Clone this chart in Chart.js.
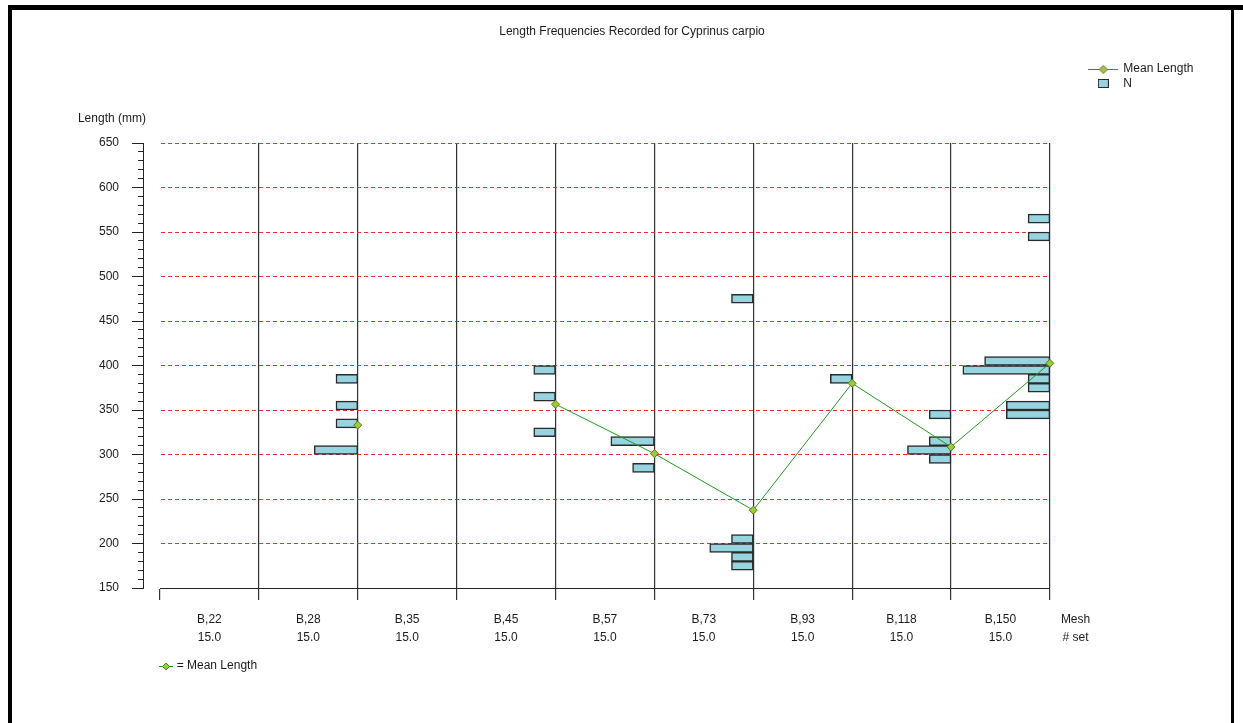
<!DOCTYPE html>
<html>
<head>
<meta charset="utf-8">
<script src="https://cdn.jsdelivr.net/npm/chart.js@4.4.1/dist/chart.umd.min.js"></script>
<style>
  html, body { margin: 0; padding: 0; background: #fff; overflow: hidden; width: 1243px; height: 723px; }
  #wrap { position: absolute; left: 20px; top: 0; width: 1224px; height: 723px; }
  .frame { position: absolute; background: #000; z-index: 2; }
</style>
</head>
<body>
<div class="frame" style="left:8px;top:5px;width:1235px;height:5px"></div>
<div class="frame" style="left:8px;top:5px;width:4px;height:718px"></div>
<div class="frame" style="left:1231px;top:5px;width:3px;height:718px"></div>
<div id="wrap"><canvas id="c" width="1224" height="723"></canvas></div>
<script>
// ---------- data ----------
const meshes = ['B,22', 'B,28', 'B,35', 'B,45', 'B,57', 'B,73', 'B,93', 'B,118', 'B,150'];
const setsPerMesh = ['15.0', '15.0', '15.0', '15.0', '15.0', '15.0', '15.0', '15.0', '15.0'];
const meanLength = [null, 333, null, 356.5, 301, 237.5, 380, 308.5, 402.5];

// length-frequency bins: [bin start (mm), number of fish]
const freqB22 = [];
const freqB28 = [[300, 2], [330, 1], [350, 1], [380, 1]];
const freqB35 = [];
const freqB45 = [[320, 1], [360, 1], [390, 1]];
const freqB57 = [[280, 1], [310, 2]];
const freqB73 = [[170, 1], [180, 1], [190, 2], [200, 1], [470, 1]];
const freqB93 = [[380, 1]];
const freqB118 = [[290, 1], [300, 2], [310, 1], [340, 1]];
const freqB150 = [[340, 2], [350, 2], [370, 1], [380, 1], [390, 4], [400, 3], [540, 1], [560, 1]];
const frequencies = [freqB22, freqB28, freqB35, freqB45, freqB57, freqB73, freqB93, freqB118, freqB150];

const yTicks = { min: 150, max: 650, major: 50, minor: 10 };
const binSize = 10;

// ---------- styling ----------
const FONT = 'Liberation Sans, Arial, Helvetica, sans-serif';
const TEXT = '#1a1a1a';
const LINE_GREEN = '#1f9a1f';
const DIAMOND_FILL = '#9acd32';
const DIAMOND_EDGE = '#5a7d1a';
const BAR_FILL = '#96d5df';
const BAR_EDGE = '#2a2a2a';
const GRID_RED = '#f22c2c';
const fishWidth = 0.22; // width of one fish, as fraction of a mesh column

Chart.defaults.font.family = FONT;
Chart.defaults.font.size = 12;
Chart.defaults.color = TEXT;

// ---------- layout helpers (legend width decides the side padding) ----------
const meas = document.createElement('canvas').getContext('2d');
meas.font = '12px ' + FONT;
const legendW = 2.5 + 28 + 6 + meas.measureText('Mean Length').width + 8;
const sidePad = 158 - legendW;
const majorAxisW = 123 - sidePad;

// ---------- datasets built from data ----------
const barData = frequencies.flatMap((bins, i) =>
  bins.map(([lo, n]) => ({ y: lo + binSize / 2, x: [i + 1 - n * fishWidth, i + 1] })));
const lineData = meanLength.map((v, i) => ({ x: i + 1, y: v }));

// ---------- legend icons ----------
function diamond(g, cx, cy, r) {
  g.beginPath();
  g.moveTo(cx, cy - r); g.lineTo(cx + r, cy); g.lineTo(cx, cy + r); g.lineTo(cx - r, cy); g.closePath();
  g.fillStyle = DIAMOND_FILL; g.fill();
  g.lineWidth = 1; g.strokeStyle = DIAMOND_EDGE; g.stroke();
}
function lineIcon() {
  const c = document.createElement('canvas'); c.width = 30; c.height = 10;
  const g = c.getContext('2d');
  g.strokeStyle = LINE_GREEN; g.lineWidth = 1;
  g.beginPath(); g.moveTo(0, 5.5); g.lineTo(30, 5.5); g.stroke();
  diamond(g, 15, 5.5, 4);
  return c;
}
function boxIcon() {
  const c = document.createElement('canvas'); c.width = 11; c.height = 9;
  const g = c.getContext('2d');
  g.fillStyle = BAR_FILL; g.fillRect(0.5, 0.5, 10, 8);
  g.strokeStyle = BAR_EDGE; g.lineWidth = 1; g.strokeRect(0.5, 0.5, 10, 8);
  return c;
}
const iconLine = lineIcon();
const iconBox = boxIcon();

// footnote marker drawn next to the "= Mean Length" note
const footnoteIcon = {
  id: 'footnoteIcon',
  afterDraw(chart) {
    const s = chart.scales.xLabels;
    const g = chart.ctx;
    const x = s.left, y = Math.round(s.bottom - 7.2) + 0.5;
    g.save();
    g.strokeStyle = LINE_GREEN; g.lineWidth = 1;
    g.beginPath(); g.moveTo(x - 1, y); g.lineTo(x + 13, y); g.stroke();
    diamond(g, x + 6, y, 3.5);
    g.restore();
  }
};

const fixW = w => s => { s.width = w; };
const fixH = h => s => { s.height = h; s.paddingLeft = 0; s.paddingRight = 0; };

new Chart(document.getElementById('c'), {
  type: 'bar',
  data: {
    datasets: [
      {
        type: 'line',
        label: 'Mean Length',
        indexAxis: 'x',
        data: lineData,
        xAxisID: 'x', yAxisID: 'y',
        borderColor: LINE_GREEN, borderWidth: 1,
        pointStyle: 'rectRot', pointRadius: 4,
        pointBackgroundColor: DIAMOND_FILL, pointBorderColor: DIAMOND_EDGE, pointBorderWidth: 1,
        spanGaps: false, fill: false, tension: 0, clip: false
      },
      {
        type: 'bar',
        label: 'N',
        indexAxis: 'y',
        data: barData,
        xAxisID: 'x', yAxisID: 'y',
        backgroundColor: BAR_FILL, borderColor: BAR_EDGE, borderWidth: 1.5,
        borderSkipped: false,
        barPercentage: 1, categoryPercentage: 1, grouped: false, clip: false
      }
    ]
  },
  options: {
    indexAxis: 'y',
    responsive: false,
    animation: false,
    events: [],
    devicePixelRatio: 1,
    layout: { padding: { left: sidePad, right: sidePad, top: 0, bottom: 49.8 } },
    scales: {
      x: {
        type: 'linear', axis: 'x', position: 'bottom', weight: 0,
        min: 0, max: meshes.length, offset: false,
        afterBuildTicks: s => { s.ticks = meshes.map((m, i) => ({ value: i })).concat([{ value: meshes.length }]); },
        ticks: { display: false },
        grid: {
          offset: false, drawOnChartArea: true, drawTicks: true, tickLength: 12,
          color: c => (c.tick && c.tick.value === 0) ? 'rgba(0,0,0,0)' : '#333',
          lineWidth: 1.2, tickColor: '#333', tickWidth: 1.2
        },
        border: { display: true, color: '#222', width: 1 },
        afterFit: fixH(12)
      },
      xLabels: {
        type: 'linear', axis: 'x', position: 'bottom', weight: 1,
        min: 0, max: meshes.length, offset: false,
        afterBuildTicks: s => { s.ticks = meshes.map((m, i) => ({ value: i + 0.5 })).concat([{ value: meshes.length + 0.26 }]); },
        ticks: {
          autoSkip: false, maxRotation: 0, minRotation: 0, padding: 11,
          font: { size: 12, lineHeight: 1.5 }, color: TEXT,
          callback: (v, i) => i < meshes.length ? [meshes[i], setsPerMesh[i]] : ['Mesh', '# set']
        },
        grid: { display: false, drawTicks: false, drawOnChartArea: false, offset: false },
        border: { display: false },
        title: { display: true, text: '     = Mean Length', align: 'start', padding: { top: 0, bottom: 0 }, font: { size: 12 }, color: TEXT },
        afterFit: fixH(73.2)
      },
      xCaption: {
        // carries the value-axis caption "Length (mm)" above the plot
        type: 'linear', axis: 'x', position: 'top', weight: 0,
        min: 0, max: meshes.length, offset: false,
        afterBuildTicks: s => { s.ticks = [{ value: -0.83 }]; },
        ticks: {
          autoSkip: false, maxRotation: 0, minRotation: 0, align: 'start', padding: 16.8,
          font: { size: 12 }, color: TEXT, callback: () => 'Length (mm)'
        },
        grid: { display: false, drawTicks: false, drawOnChartArea: false, offset: false },
        border: { display: false },
        afterFit: fixH(38)
      },
      y: {
        type: 'linear', axis: 'y', position: 'left', weight: 2,
        min: yTicks.min, max: yTicks.max, offset: false,
        ticks: { stepSize: yTicks.major, padding: 13, font: { size: 12 }, color: TEXT },
        grid: {
          offset: false, drawOnChartArea: true, drawTicks: true, tickLength: 11,
          color: c => (c.tick && c.tick.value === yTicks.min) ? 'rgba(0,0,0,0)' : GRID_RED,
          lineWidth: 1, tickColor: '#222', tickWidth: 1
        },
        border: { display: true, color: '#222', width: 1, dash: [4, 3] },
        afterFit: fixW(majorAxisW)
      },
      yMinor: {
        type: 'linear', axis: 'y', position: 'left', weight: 1,
        min: yTicks.min, max: yTicks.max, offset: false,
        ticks: { display: false, stepSize: yTicks.minor },
        grid: { offset: false, drawOnChartArea: false, drawTicks: true, tickLength: 5, tickColor: '#222', tickWidth: 1 },
        border: { display: false },
        afterFit: fixW(0)
      },
      yGap: {
        type: 'linear', axis: 'y', position: 'left', weight: 0, offset: false,
        ticks: { display: false }, grid: { display: false, drawTicks: false }, border: { display: false },
        afterFit: fixW(17)
      },
      yGapR: {
        type: 'linear', axis: 'y', position: 'right', weight: 0, offset: false,
        ticks: { display: false }, grid: { display: false, drawTicks: false }, border: { display: false },
        afterFit: fixW(37)
      }
    },
    plugins: {
      title: {
        display: true, text: 'Length Frequencies Recorded for Cyprinus carpio',
        font: { size: 12, weight: 'normal' }, color: TEXT,
        padding: { top: 24.8, bottom: 65.8 }
      },
      legend: {
        display: true, position: 'right', align: 'start',
        title: { display: true, text: ' ', padding: { top: 46.1, bottom: 0 }, font: { size: 12 } },
        labels: {
          usePointStyle: true, pointStyleWidth: 28, boxWidth: 28, boxHeight: 12, padding: 2.5,
          font: { size: 12 }, color: TEXT,
          generateLabels: () => [
            { text: 'Mean Length', pointStyle: iconLine, datasetIndex: 0, fillStyle: DIAMOND_FILL, strokeStyle: LINE_GREEN, lineWidth: 0, hidden: false, textAlign: 'left' },
            { text: 'N', pointStyle: iconBox, datasetIndex: 1, fillStyle: BAR_FILL, strokeStyle: BAR_EDGE, lineWidth: 0, hidden: false, textAlign: 'left' }
          ]
        }
      },
      tooltip: { enabled: false }
    }
  },
  plugins: [footnoteIcon]
});
</script>
</body>
</html>
